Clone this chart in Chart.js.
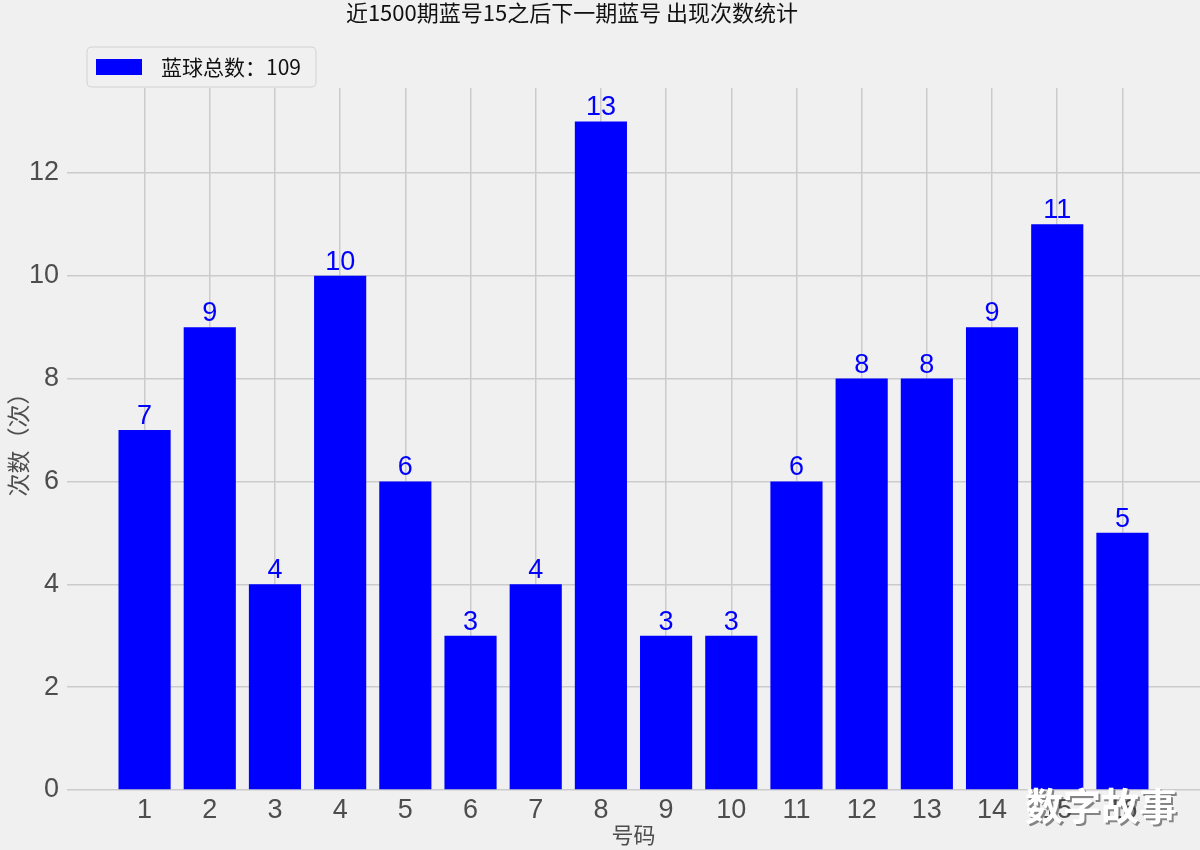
<!DOCTYPE html>
<html><head><meta charset="utf-8">
<script src="https://cdn.jsdelivr.net/npm/chart.js@4.4.1/dist/chart.umd.min.js"></script>
<style>html,body{margin:0;padding:0;background:#f0f0f0}#wrap{width:1200px;height:850px;position:relative}</style>
</head><body><div id="wrap"><canvas id="c" width="1200" height="850"></canvas></div>
<script>
const numbers = [1,2,3,4,5,6,7,8,9,10,11,12,13,14,15,16];
const counts = [7,9,4,10,6,3,4,13,3,3,6,8,8,9,11,5];
const yTicks = [0,2,4,6,8,10,12];
const titleText = '近1500期蓝号15之后下一期蓝号 出现次数统计';
const legendText = '蓝球总数：109';
const xTitle = '号码';
const yTitle = '次数（次）';
const watermark = '数字故事';

const CJK = '"Noto Sans CJK SC", "Liberation Sans", sans-serif';
const NUM = '"Liberation Sans", "Noto Sans CJK SC", sans-serif';

const bgPlugin = {
  id: 'bg',
  beforeDraw(chart) {
    const ctx = chart.ctx;
    ctx.save(); ctx.fillStyle = '#f0f0f0'; ctx.fillRect(0,0,chart.width,chart.height); ctx.restore();
  }
};
const extras = {
  id: 'extras',
  afterDatasetsDraw(chart) {
    const ctx = chart.ctx;
    const meta = chart.getDatasetMeta(0);
    ctx.save();
    ctx.fillStyle = '#0000ff';
    ctx.font = '27px ' + NUM;
    ctx.textAlign = 'center'; ctx.textBaseline = 'alphabetic';
    meta.data.forEach((bar, i) => {
      ctx.fillText(String(counts[i]), bar.x, bar.y - 6);
    });
    ctx.restore();
  },
  afterDraw(chart) {
    const ctx = chart.ctx;
    ctx.save();
    // title
    ctx.fillStyle = '#111';
    ctx.font = '22px ' + CJK;
    ctx.textAlign = 'center'; ctx.textBaseline = 'middle';
    ctx.fillText(titleText, 572, 13);
    // legend
    const lx = 87, ly = 47, lw = 229, lh = 40, r = 5;
    ctx.beginPath();
    ctx.moveTo(lx + r, ly); ctx.lineTo(lx + lw - r, ly); ctx.quadraticCurveTo(lx + lw, ly, lx + lw, ly + r);
    ctx.lineTo(lx + lw, ly + lh - r); ctx.quadraticCurveTo(lx + lw, ly + lh, lx + lw - r, ly + lh);
    ctx.lineTo(lx + r, ly + lh); ctx.quadraticCurveTo(lx, ly + lh, lx, ly + lh - r);
    ctx.lineTo(lx, ly + r); ctx.quadraticCurveTo(lx, ly, lx + r, ly); ctx.closePath();
    ctx.fillStyle = 'rgba(240,240,240,0.85)'; ctx.fill();
    ctx.strokeStyle = '#d2d2d2'; ctx.lineWidth = 1; ctx.stroke();
    ctx.fillStyle = '#0000ff';
    ctx.fillRect(96, 59, 46, 16);
    ctx.fillStyle = '#111';
    ctx.font = '21px ' + CJK;
    ctx.textAlign = 'left'; ctx.textBaseline = 'middle';
    ctx.fillText(legendText, 161, 67);
    // watermark
    ctx.font = 'bold 38px ' + CJK;
    ctx.textAlign = 'left'; ctx.textBaseline = 'middle';
    ctx.fillStyle = 'rgba(60,60,60,0.6)';
    ctx.fillText(watermark, 1027, 808);
    ctx.fillStyle = '#ffffff';
    ctx.fillText(watermark, 1025, 806);
    ctx.restore();
  }
};

new Chart(document.getElementById('c'), {
  type: 'bar',
  data: {
    datasets: [{
      label: legendText,
      data: numbers.map((n, i) => ({x: n, y: counts[i]})),
      backgroundColor: '#0000ff',
      borderWidth: 0,
      barPercentage: 0.8,
      categoryPercentage: 1.0
    }]
  },
  options: {
    responsive: false,
    animation: false,
    devicePixelRatio: 1,
    layout: { padding: { top: 88, left: 0, right: 0, bottom: 0 } },
    plugins: { legend: { display: false }, title: { display: false }, tooltip: { enabled: false } },
    scales: {
      x: {
        type: 'linear',
        offset: false,
        min: -0.19, max: 17.19,
        afterBuildTicks(scale) { scale.ticks = numbers.map(v => ({ value: v })); },
        afterFit(scale) { scale.height = 60; scale.paddingLeft = 0; scale.paddingRight = 0; },
        border: { display: false },
        grid: { offset: false, color: '#cbcbcb', lineWidth: 1.5, drawTicks: false },
        ticks: { autoSkip: false, maxRotation: 0, padding: 4, color: '#4d4d4d', font: { size: 27, family: NUM }, callback: v => String(v) },
        title: { display: true, text: xTitle, color: '#4d4d4d', font: { size: 22, family: CJK }, padding: { top: 0, bottom: 2 } }
      },
      y: {
        min: 0, max: 13.65,
        afterBuildTicks(scale) { scale.ticks = yTicks.map(v => ({ value: v })); },
        afterFit(scale) { scale.width = 67; },
        border: { display: false },
        grid: { color: '#cbcbcb', lineWidth: 1.5, drawTicks: false },
        ticks: { padding: 8, color: '#4d4d4d', font: { size: 27, family: NUM } },
        title: { display: true, text: yTitle, color: '#4d4d4d', font: { size: 23, family: CJK }, padding: { top: 4, bottom: 0 } }
      }
    }
  },
  plugins: [bgPlugin, extras]
});
</script></body></html>
